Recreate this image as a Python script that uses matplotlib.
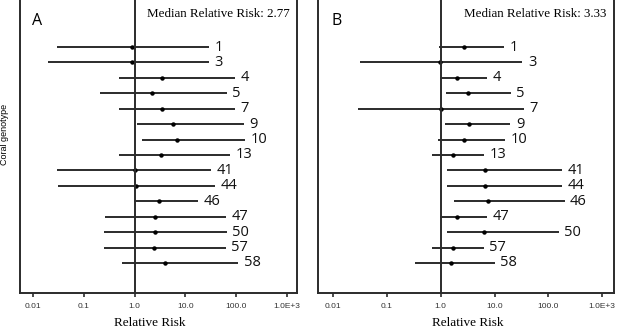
import matplotlib
matplotlib.use("Agg")
import matplotlib.pyplot as plt
import numpy as np

# ── Data ────────────────────────────────────────────────────────
genotypes = ["1", "3", "4", "5", "7", "9", "10", "13", "41", "44", "46", "47", "50", "57", "58"]

# Panel A
a_point = [0.9, 0.9, 3.5, 2.25, 3.5, 5.8, 7.0, 3.4, 1.0, 1.05, 3.0, 2.5, 2.5, 2.4, 3.9]
a_low   = [0.03, 0.02, 0.49, 0.21, 0.5, 1.1, 1.4, 0.5, 0.03, 0.031, 0.96, 0.26, 0.25, 0.25, 0.58]
a_high  = [29.5, 29.5, 95, 66, 95, 144, 150, 76, 32, 39, 18, 63, 66, 63, 110]
a_median = "2.77"

# Panel B
b_point = [2.7, 0.95, 2.0, 3.2, 1.0, 3.35, 2.75, 1.67, 6.6, 6.6, 7.6, 2.0, 6.4, 1.67, 1.55]
b_low   = [0.91, 0.031, 0.96, 1.24, 0.029, 1.19, 0.89, 0.70, 1.33, 1.33, 1.77, 0.96, 1.33, 0.70, 0.34]
b_high  = [15.3, 33, 7.3, 20, 35, 19.8, 15.5, 6.3, 179, 179, 200, 7.3, 155, 6.3, 10.1]
b_median = "3.33"

tick_vals   = [0.01, 0.1, 1.0, 10.0, 100.0, 1000.0]
tick_labels = ["0.01", "0.1", "1.0", "10.0", "100.0", "1.0E+3"]

DARK = "#2b2b2b"

fig = plt.figure(figsize=(6.17, 3.28), dpi=100)
W, H = 617, 328


def add_panel(px_left, px_right, xlim, letter, point, low, high, median, xlabel_x):
    ax = fig.add_axes([px_left / W, (H - 293) / H, (px_right - px_left) / W, 293 / H])
    ax.set_xscale("log")
    ax.set_xlim(*xlim)
    ax.set_ylim(15.95, -3.05)
    ys = np.arange(len(genotypes))

    for y, lo, hi, pt, lab in zip(ys, low, high, point, genotypes):
        ax.plot([lo, hi], [y, y], color=DARK, lw=1.4, solid_capstyle="butt")
        ax.plot(pt, y, "o", color="black", ms=2.2)
        ax.annotate(lab, (hi, y), xytext=(4, 0), textcoords="offset points",
                    ha="left", va="center", fontsize=10.5, family="Open Sans",
                    color="#111111")

    ax.axvline(1.0, color=DARK, lw=1.4)

    ax.set_xticks(tick_vals)
    ax.set_xticklabels(tick_labels, fontsize=6, family="Liberation Sans", color="#333333")
    ax.minorticks_off()
    ax.tick_params(axis="x", length=3, width=1.2, color=DARK, pad=4)
    ax.set_yticks([])
    ax.spines["top"].set_visible(False)
    for s in ["left", "right", "bottom"]:
        ax.spines[s].set_color(DARK)
        ax.spines[s].set_linewidth(1.4)

    ax.set_xlabel("Relative Risk", fontsize=9.5, family="Liberation Serif")
    ax.xaxis.set_label_coords(xlabel_x, -0.082)
    ax.xaxis.label.set_va("top")
    ax.text(0.045, 0.93, letter, transform=ax.transAxes, fontsize=11.5,
            family="Open Sans", ha="left", va="center")
    ax.text(0.975, 0.952, f"Median Relative Risk: {median}", transform=ax.transAxes,
            fontsize=9.4, family="Liberation Serif", ha="right", va="center")
    return ax


ax_a = add_panel(20, 297, (10 ** -2.255, 10 ** 3.2), "A", a_point, a_low, a_high, a_median, 0.467)
ax_b = add_panel(318, 614, (10 ** -2.28, 10 ** 3.22), "B", b_point, b_low, b_high, b_median, 0.505)

fig.text(5 / W, 1 - 134 / H, "Coral genotype", rotation=90, fontsize=6.5,
         family="Liberation Sans", ha="center", va="center")

fig.savefig("out.png", dpi=100)
